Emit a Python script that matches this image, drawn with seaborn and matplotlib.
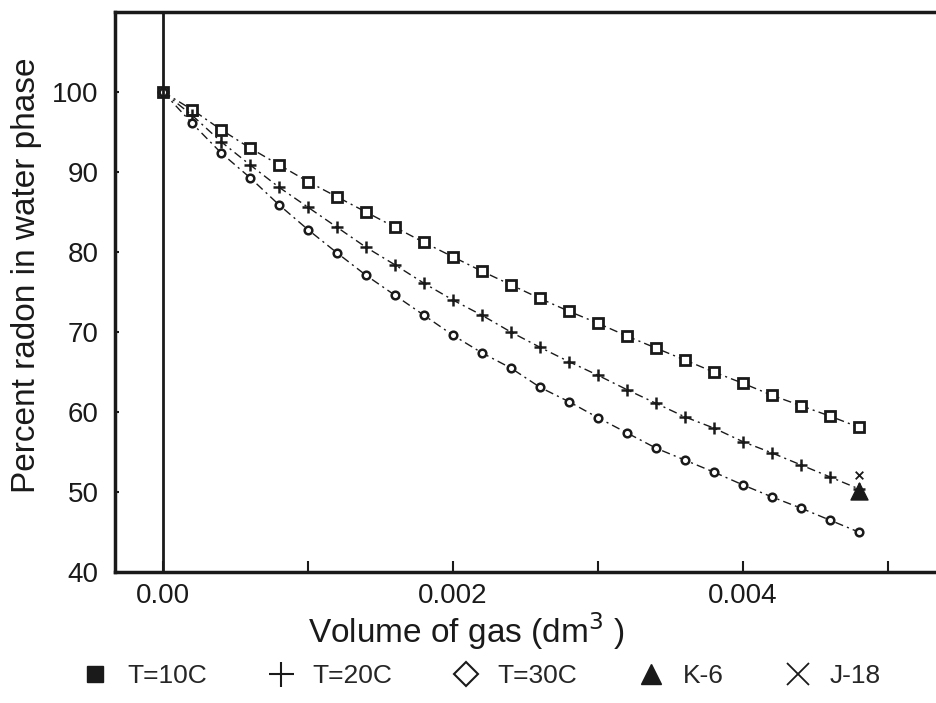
import matplotlib
matplotlib.use('Agg')
import matplotlib.pyplot as plt
from matplotlib.lines import Line2D
import seaborn as sns

# volume of gas (dm3)
vol = [0.0, 0.0002, 0.0004, 0.0006, 0.0008, 0.0010, 0.0012, 0.0014, 0.0016,
       0.0018, 0.0020, 0.0022, 0.0024, 0.0026, 0.0028, 0.0030, 0.0032, 0.0034,
       0.0036, 0.0038, 0.0040, 0.0042, 0.0044, 0.0046, 0.0048]
# percent radon remaining in water phase
t10 = [100, 97.8, 95.3, 93.0, 90.9, 88.8, 86.9, 85.0, 83.1, 81.2, 79.4, 77.6, 75.9,
       74.2, 72.6, 71.1, 69.5, 68.0, 66.5, 65.0, 63.6, 62.1, 60.8, 59.5, 58.1]
t20 = [100, 97.1, 93.8, 90.9, 88.1, 85.6, 83.1, 80.6, 78.4, 76.1, 74.0, 72.1, 70.0,
       68.1, 66.3, 64.6, 62.8, 61.1, 59.4, 58.0, 56.3, 54.9, 53.4, 51.9, 50.4]
t30 = [100, 96.1, 92.4, 89.3, 85.9, 82.8, 79.9, 77.1, 74.6, 72.1, 69.6, 67.4, 65.5,
       63.1, 61.3, 59.3, 57.4, 55.5, 54.0, 52.5, 50.9, 49.4, 48.0, 46.5, 45.0]
k6_x, k6_y = [0.0048], [50.1]
j18_x, j18_y = [0.0048], [52.2]

xticks = [0.0, 0.002, 0.004]
xtick_labels = ['0.00', '0.002', '0.004']
yticks = [40, 50, 60, 70, 80, 90, 100]

sns.set_theme(style='white')
plt.rcParams['font.family'] = ['Liberation Sans', 'DejaVu Sans']

fig = plt.figure(figsize=(9.36, 7.03), dpi=100)
ax = fig.add_axes([0.123, 0.186, 0.877, 0.797])

dash = (6, 3, 1.5, 3)
sns.lineplot(x=vol, y=t10, ax=ax, color='k', lw=1.0, marker='s',
             markersize=6.5, markerfacecolor='white', markeredgecolor='k',
             markeredgewidth=2.0).lines[-1].set_dashes(dash)
sns.lineplot(x=vol, y=t20, ax=ax, color='k', lw=1.0, marker='+',
             markersize=8, markeredgecolor='k', markeredgewidth=1.8).lines[-1].set_dashes(dash)
sns.lineplot(x=vol, y=t30, ax=ax, color='k', lw=1.0, marker='o',
             markersize=5.5, markerfacecolor='white', markeredgecolor='k',
             markeredgewidth=1.8).lines[-1].set_dashes(dash)
sns.scatterplot(x=k6_x, y=k6_y, ax=ax, marker='^', s=150, color='k', edgecolor='k', zorder=5)
sns.scatterplot(x=j18_x, y=j18_y, ax=ax, marker='x', s=30, color='k', linewidth=1.3, zorder=5)

ax.axvline(0, color='k', lw=2)

ax.set_xlim(-0.00033, 0.00533)
ax.set_ylim(40, 110)
ax.set_xticks(xticks)
ax.set_xticklabels(xtick_labels)
ax.set_xticks([0.001, 0.003, 0.005], minor=True)
ax.set_yticks(yticks)

for s in ['left', 'bottom', 'top']:
    ax.spines[s].set_linewidth(2.5)
    ax.spines[s].set_color('k')
ax.spines['right'].set_visible(False)

ax.tick_params(axis='x', which='both', direction='in', length=8, width=1.5,
               colors='k', labelsize=20, pad=8, bottom=True)
ax.tick_params(axis='y', direction='in', length=3, width=1.5, colors='k',
               labelsize=20, pad=12, left=True)

ax.set_ylabel('Percent radon in water phase', fontsize=24, color='k')
ax.yaxis.set_label_coords(-0.089, 0.53)
ax.set_xlabel('Volume of gas (dm$^3$ )', fontsize=24, color='k')
ax.xaxis.set_label_coords(0.428, -0.068)

handles = [
    Line2D([], [], ls='none', marker='s', ms=11, color='k'),
    Line2D([], [], ls='none', marker='+', ms=18, mew=1.5, color='k'),
    Line2D([], [], ls='none', marker='D', ms=12, mfc='white', mec='k', mew=1.5),
    Line2D([], [], ls='none', marker='^', ms=15, color='k'),
    Line2D([], [], ls='none', marker='x', ms=16, mew=1.3, color='k'),
]
labels = ['T=10C', 'T=20C', 'T=30C', 'K-6', 'J-18']
fig.legend(handles, labels, loc='center', bbox_to_anchor=(0.513, 0.038), ncol=5,
           frameon=False, fontsize=19, handletextpad=0.6, columnspacing=2.2,
           handlelength=1.2)

fig.savefig('out.png', dpi=100, facecolor='white')
